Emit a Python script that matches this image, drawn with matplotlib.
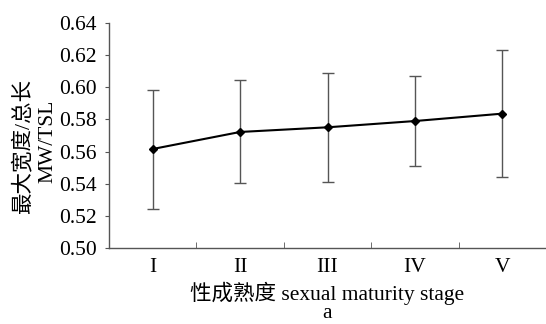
import matplotlib
matplotlib.use("Agg")
import matplotlib.pyplot as plt
import numpy as np

stages = ["I", "II", "III", "IV", "V"]
means = [0.5616, 0.5722, 0.5751, 0.5790, 0.5836]
upper = [0.5983, 0.6043, 0.6089, 0.6068, 0.6230]
lower = [0.5240, 0.5403, 0.5409, 0.5510, 0.5442]
yticks = [0.50, 0.52, 0.54, 0.56, 0.58, 0.60, 0.62, 0.64]

FS = 15.5
plt.rcParams['font.family'] = ['Liberation Serif', 'Noto Sans CJK SC']
fig = plt.figure(figsize=(5.46, 3.24), dpi=100)
ax = fig.add_axes([109/546, 1-248/324, 1-109/546, 225/324])

x = np.arange(len(stages))
m = np.array(means)
yerr = [m - np.array(lower), np.array(upper) - m]
ax.errorbar(x, m, yerr=yerr, fmt='none', ecolor='#555555', elinewidth=1.0,
            capsize=4, capthick=1.0, zorder=2)
ax.plot(x, m, color='black', lw=1.5, marker='D', ms=4.5, zorder=3)

ax.set_xlim(-0.5, 4.5)
ax.set_ylim(0.50, 0.64)
ax.set_yticks(yticks)
ax.set_yticklabels([f"{v:.2f}" for v in yticks])
ax.set_xticks(x)
ax.set_xticklabels(stages)
ax.set_xticks(x[:-1] + 0.5, minor=True)
ax.tick_params(axis='x', which='major', length=0, labelsize=FS, pad=7)
ax.tick_params(axis='x', which='minor', direction='in', length=4, color='#555555')
ax.tick_params(axis='y', direction='out', length=3, labelsize=FS, color='#555555', pad=6)

for s in ['top', 'right']:
    ax.spines[s].set_visible(False)
for s in ['left', 'bottom']:
    ax.spines[s].set_color('#555555')
    ax.spines[s].set_linewidth(1.0)

fig.text(23/546, 1-147/324, "最大宽度/总长", rotation=90, ha='center', va='center', fontsize=FS)
fig.text(47.5/546, 1-141/324, "MW/TSL", rotation=90, ha='center', va='center', fontsize=FS)
fig.text(327/546, 1-293/324, "性成熟度 sexual maturity stage", ha='center', va='center', fontsize=FS)
fig.text(327/546, 1/324, "a", ha='center', va='bottom', fontsize=FS)

fig.savefig("out.png", dpi=100)
